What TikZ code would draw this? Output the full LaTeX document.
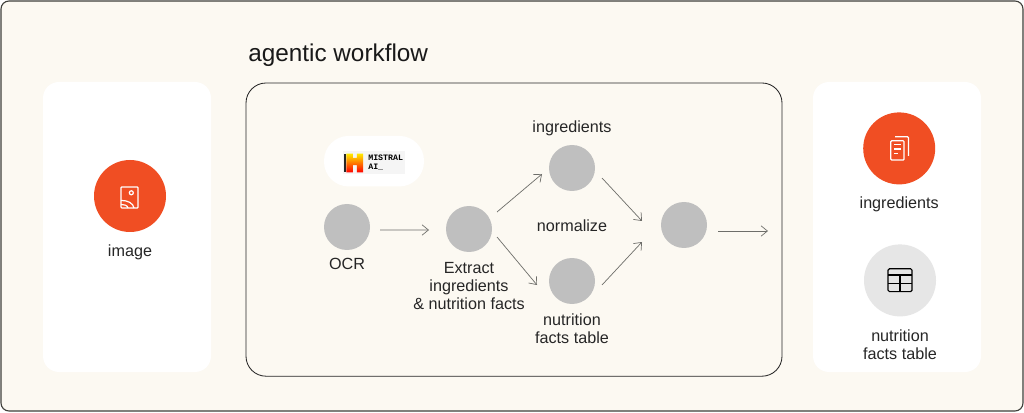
\documentclass[tikz,border=0pt]{standalone}
\usepackage{fontspec}
\setmainfont{Liberation Sans}
\newfontfamily\logofont{Liberation Mono}
\usetikzlibrary{positioning,arrows.meta}
\definecolor{creamfill}{HTML}{FCF9F2}
\definecolor{edgedark}{HTML}{3F3F3A}
\definecolor{stepgray}{HTML}{BFBFBF}
\definecolor{accentred}{HTML}{F04E23}
\definecolor{softgray}{HTML}{E6E6E6}
\definecolor{flowgray}{HTML}{6E6E6A}
\begin{document}
\begin{tikzpicture}[on grid, node distance = 3cm,
	panel/.style={fill=white, rounded corners=.4cm, minimum width=4.2cm, minimum height=7.25cm},
	stepnode/.style={circle, fill=stepgray, minimum size=1.15cm, inner sep=0pt},
	bignode/.style={circle, fill=accentred, minimum size=1.8cm, inner sep=0pt},
	caption/.style={align=center, font=\fontsize{11.5}{12.8}\selectfont, text=black!85},
	flow/.style={draw=flowgray, line width=.5pt, -{Straight Barb[length=1.6mm,width=2.6mm]}},
	iconline/.style={draw=white, line width=.85pt, rounded corners=.6pt}]
	\useasboundingbox (0,0) rectangle (25.6,10.3);
	\node[draw=edgedark, fill=creamfill, line width=.8pt, rounded corners=.2cm, minimum width=25.55cm, minimum height=10.25cm](frame) at (12.8,5.15){};

	% side panels
	\node[panel](inpanel) at (3.175,4.625){};
	\node[panel](outpanel) at (22.425,4.625){};
	\node[draw=black!85, line width=.6pt, fill=creamfill, rounded corners=.5cm, minimum width=13.4cm, minimum height=7.33cm](workflow) at (12.85,4.56){};
	\node[font=\fontsize{17.3}{20}\selectfont, text=black!90, anchor=west, inner sep=0pt](title) at (6.2,8.92){agentic workflow};

	% input
	\node[bignode](image) at (3.25,5.4){};
	\node[caption, below=1.42cm of image](imagelabel){image};
	\draw[iconline] (3.025,5.1) rectangle (3.45,5.625);
	\draw[iconline] (3.283,5.48) circle (.05);
	\draw[iconline] (3.025,5.29) .. controls (3.2,5.29) and (3.33,5.22) .. (3.35,5.1);
	\draw[iconline] (3.025,5.19) .. controls (3.1,5.19) and (3.19,5.17) .. (3.2,5.1);

	% workflow steps
	\node[stepnode](ocr) at (8.675,4.625){};
	\node[stepnode, right=3.05cm of ocr, yshift=-.05cm](extract){};
	\node[stepnode, above right=1.525cm and 2.575cm of extract](ingr){};
	\node[stepnode, below right=1.3cm and 2.575cm of extract](nutr){};
	\node[stepnode, right=5.375cm of extract, yshift=.1cm](merge){};
	\coordinate[right=2.1cm of merge, yshift=-.15cm](end);

	\node[caption, below=.93cm of ocr](ocrlabel){OCR};
	\node[caption, below=1.42cm of extract](extractlabel){Extract\\ingredients\\\& nutrition facts};
	\node[caption, above=1cm of ingr](ingrlabel){ingredients};
	\node[caption, below=1.2cm of nutr](nutrlabel){nutrition\\facts table};
	\node[caption] at (14.3,4.65)(normlabel){normalize};

	% logo
	\node[fill=white, rounded corners=.62cm, minimum width=2.5cm, minimum height=1.265cm](badge) at (9.35,6.27){};
	\node[fill=black!4, minimum width=1.55cm, minimum height=.575cm](logo) at (9.35,6.24){};
	\fill[black!85] (8.6,5.99) rectangle (8.66,6.46);
	\shade[top color=yellow!85!orange, bottom color=red] (8.66,5.99) -- (8.66,6.46) -- (8.82,6.46) -- (8.82,6.35) -- (8.92,6.35) -- (8.92,6.46) -- (9.08,6.46) -- (9.08,5.99) -- (8.92,5.99) -- (8.92,6.17) -- (8.82,6.17) -- (8.82,5.99) -- cycle;
	\node[font=\logofont\bfseries\fontsize{5.9}{6.4}\selectfont, align=left, anchor=west, inner sep=0pt](logotext) at (9.2,6.235){MISTRAL\\AI\_};

	% output
	\node[bignode](docs) at (22.48,6.59){};
	\node[caption, below=1.4cm of docs](docslabel){ingredients};
	\node[bignode, fill=softgray](tablenode) at (22.5,3.29){};
	\node[caption, below=1.6cm of tablenode](tablelabel){nutrition\\facts table};
	\draw[iconline] (22.375,6.88) -- (22.71,6.88) -- (22.71,6.4);
	\draw[iconline] (22.27,6.3) rectangle (22.6,6.78);
	\foreach \y/\x in {6.69/22.52, 6.575/22.52, 6.465/22.44}
		\draw[draw=white, line width=.85pt] (22.36,\y) -- (\x,\y);
	\draw[draw=black, line width=.8pt, rounded corners=1pt] (22.2,3.01) rectangle (22.8,3.58);
	\draw[draw=black, line width=.8pt] (22.2,3.425) -- (22.8,3.425) (22.2,3.22) -- (22.8,3.22) (22.5,3.01) -- (22.5,3.425);

	% connectors
	\draw[flow] ([shift={(.825,-.075)}]ocr.center) -- ([shift={(-1,-.025)}]extract.center);
	\draw[flow] ([shift={(.7,.425)}]extract.center) -- ([shift={(-.75,-.15)}]ingr.center);
	\draw[flow] ([shift={(.7,-.2)}]extract.center) -- ([shift={(-.875,-.1)}]nutr.center);
	\draw[flow] ([shift={(.75,-.25)}]ingr.center) -- ([shift={(-1.05,.1)}]merge.center);
	\draw[flow] ([shift={(.75,-.1)}]nutr.center) -- ([shift={(-1.05,-.425)}]merge.center);
	\draw[flow] ([shift={(.85,-.15)}]merge.center) -- (end);
\end{tikzpicture}
\end{document}
